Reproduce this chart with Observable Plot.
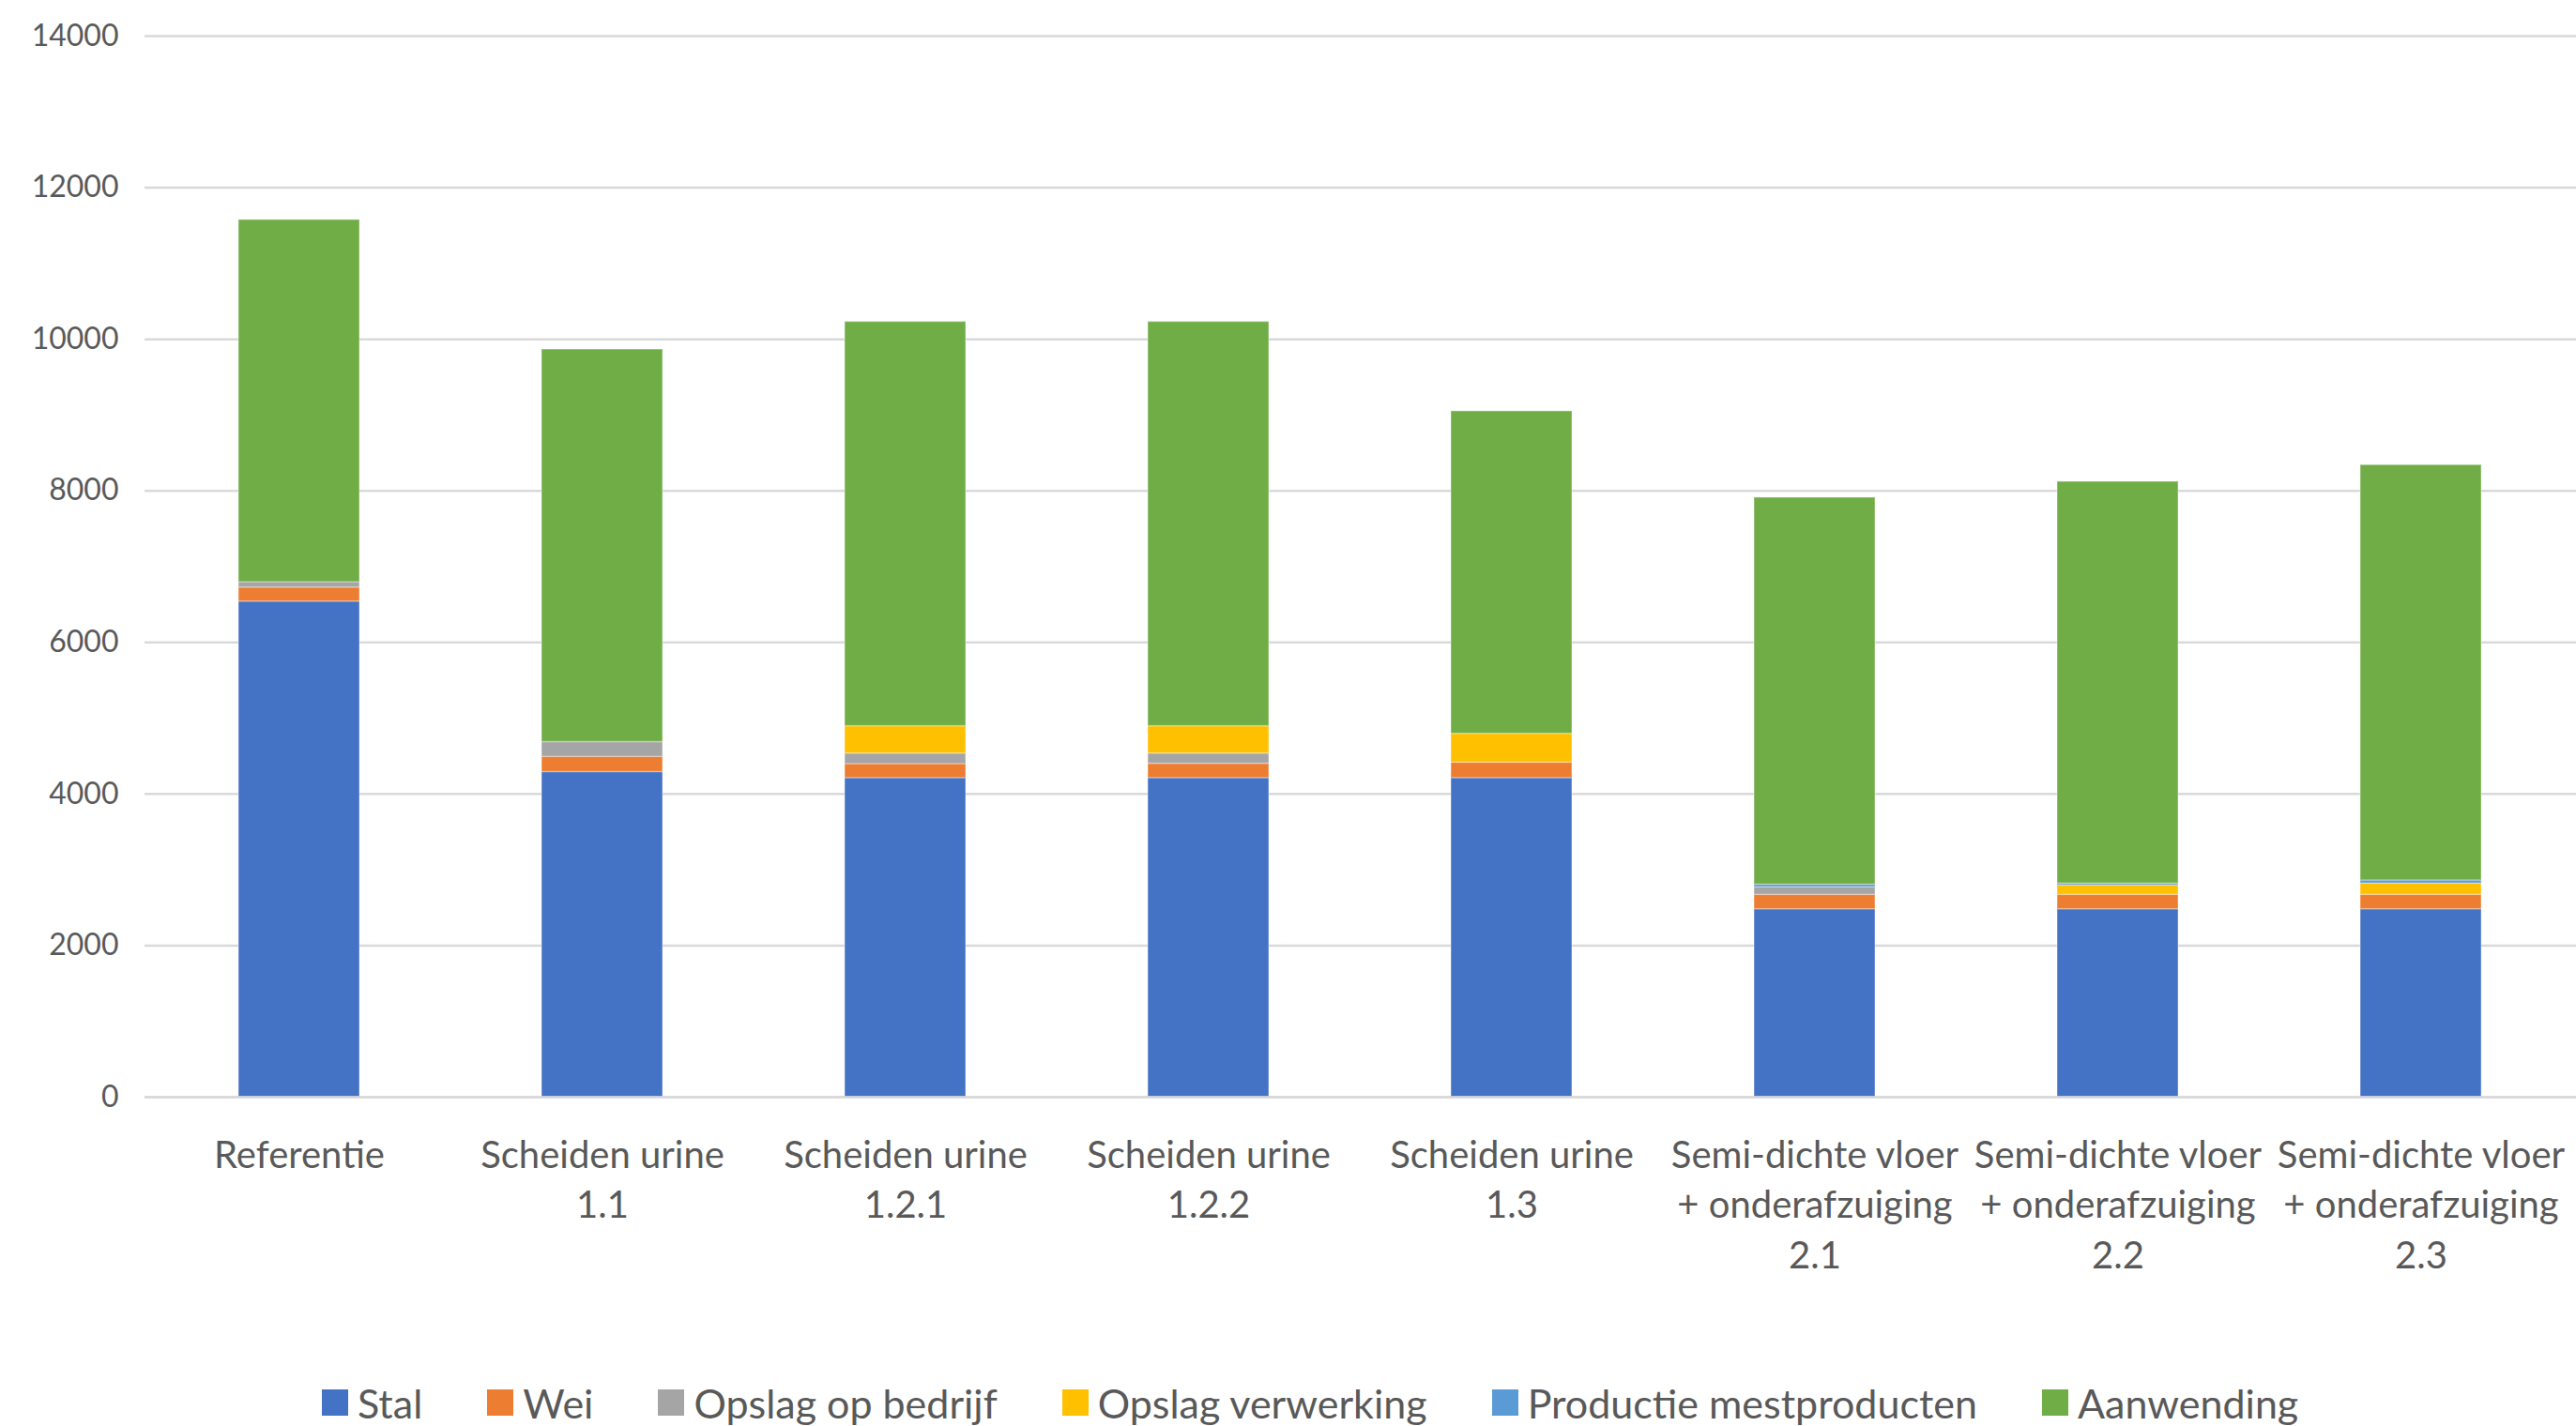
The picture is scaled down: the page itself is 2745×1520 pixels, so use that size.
<!DOCTYPE html>
<html><head><meta charset="utf-8">
<script src="https://cdn.jsdelivr.net/npm/d3@7"></script>
<script src="https://cdn.jsdelivr.net/npm/@observablehq/plot@0.6"></script>
<style>
html,body{margin:0;padding:0;background:#fff;}
body{width:2745px;height:1520px;overflow:hidden;font-family:Lato,"Open Sans",sans-serif;}
#legend{height:80px;box-sizing:border-box;padding-top:30px;padding-left:343px;display:flex;align-items:center;gap:69px;color:#595959;font-size:43px;}
.item{display:flex;align-items:center;gap:10px;white-space:nowrap;}
.sw{width:28px;height:28px;display:inline-block;}
</style></head><body>
<div id="chart"></div>
<div id="legend"></div>
<script>
const categories = ["Referentie","Scheiden urine 1.1","Scheiden urine 1.2.1","Scheiden urine 1.2.2","Scheiden urine 1.3","Semi-dichte vloer + onderafzuiging 2.1","Semi-dichte vloer + onderafzuiging 2.2","Semi-dichte vloer + onderafzuiging 2.3"];
const tickLabels = ["Referentie","Scheiden urine\n1.1","Scheiden urine\n1.2.1","Scheiden urine\n1.2.2","Scheiden urine\n1.3","Semi-dichte vloer\n+ onderafzuiging\n2.1","Semi-dichte vloer\n+ onderafzuiging\n2.2","Semi-dichte vloer\n+ onderafzuiging\n2.3"];
const seriesNames = ["Stal","Wei","Opslag op bedrijf","Opslag verwerking","Productie mestproducten","Aanwending"];
const seriesColors = ["#4472C4","#ED7D31","#A5A5A5","#FFC000","#5B9BD5","#70AD47"];
const yTicks = [0,2000,4000,6000,8000,10000,12000,14000];

const stal = [6540,4290,4210,4210,4210,2480,2480,2480];
const wei = [185,200,185,190,205,190,190,190];
const opslagBedrijf = [70,195,140,135,0,100,0,0];
const opslagVerwerking = [0,0,360,360,380,0,125,150];
const productieMestproducten = [0,0,0,0,0,35,25,40];
const aanwending = [4780,5180,5335,5335,4255,5105,5300,5480];

const seriesValues = [stal,wei,opslagBedrijf,opslagVerwerking,productieMestproducten,aanwending];
const data = [];
seriesNames.forEach((s,i)=>categories.forEach((c,j)=>data.push({category:c,series:s,value:seriesValues[i][j]})));

const plot = Plot.plot({
  width:2745, height:1440,
  marginTop:38, marginBottom:271, marginLeft:154, marginRight:0,
  style:{fontFamily:"Lato, 'Open Sans', sans-serif", color:"#595959", background:"#fff"},
  x:{domain:categories, paddingInner:0.6, paddingOuter:0.3, label:null},
  y:{domain:[0,14000], label:null},
  color:{domain:seriesNames, range:seriesColors},
  marks:[
    Plot.gridY(yTicks,{stroke:"#d9d9d9", strokeOpacity:1, strokeWidth:2.5}),
    Plot.axisY(yTicks,{tickSize:0, tickPadding:28, fontSize:32, tickFormat:d=>String(d), label:null, fill:"#595959"}),
    Plot.axisX({tickSize:0, tickPadding:37, fontSize:40, lineHeight:1.34, tickFormat:d=>tickLabels[categories.indexOf(d)], label:null, fill:"#595959"}),
    Plot.barY(data,{x:"category", y:"value", fill:"series", stroke:"white", strokeOpacity:0.3, strokeWidth:1.5}),
    Plot.ruleY([0],{stroke:"#d9d9d9", strokeWidth:2.5})
  ]
});
document.getElementById("chart").appendChild(plot);

const legend = document.getElementById("legend");
seriesNames.forEach((s,i)=>{
  const it = document.createElement("div"); it.className="item";
  const sw = document.createElement("span"); sw.className="sw"; sw.style.background=seriesColors[i];
  const t = document.createElement("span"); t.textContent=s;
  it.appendChild(sw); it.appendChild(t); legend.appendChild(it);
});
</script>
</body></html>
